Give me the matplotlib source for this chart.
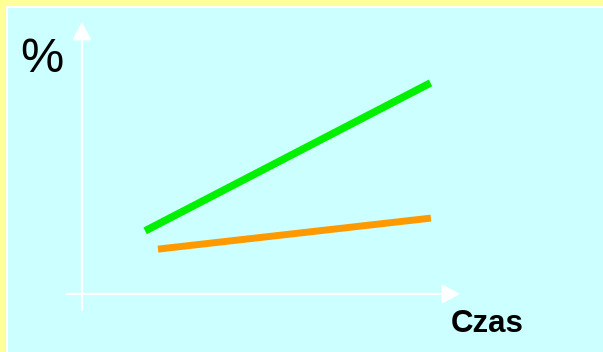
import matplotlib
matplotlib.use("Agg")
import matplotlib.pyplot as plt
from matplotlib.patches import Rectangle

# Data (arbitrary units: time 0-100, percent 0-100)
green_t = [16.7, 92.2]
green_pct = [23.2, 77.6]
orange_t = [20.1, 92.3]
orange_pct = [16.5, 27.9]
x_label = "Czas"
y_label = "%"

W, H = 603, 352
fig = plt.figure(figsize=(W / 100, H / 100), dpi=100)
fig.patch.set_facecolor("#FFFF99")

# white edge + cyan panel
fig.patches.append(Rectangle((6 / W, -0.1), 1.2, 1 - 6 / H + 0.1, transform=fig.transFigure,
                             facecolor="white", edgecolor="none", zorder=-10))
fig.patches.append(Rectangle((8 / W, -0.1), 1.2, 1 - 8 / H + 0.1, transform=fig.transFigure,
                             facecolor="#CCFFFF", edgecolor="none", zorder=-9))

ax = fig.add_axes([82 / W, (H - 294) / H, 378 / W, 272 / H])
ax.set_zorder(5)
ax.set_xlim(0, 100)
ax.set_ylim(0, 100)
ax.patch.set_alpha(0)
for s in ax.spines.values():
    s.set_visible(False)
ax.set_xticks([])
ax.set_yticks([])

arrow_style = "-|>,head_length=1.08,head_width=0.58"
ax.annotate("", xy=(0, 100), xytext=(0, -5.9), annotation_clip=False,
            arrowprops=dict(arrowstyle=arrow_style, color="white", lw=1.6,
                            shrinkA=0, shrinkB=0, mutation_scale=10))
ax.annotate("", xy=(100, 0), xytext=(-4.0, 0), annotation_clip=False,
            arrowprops=dict(arrowstyle=arrow_style, color="white", lw=1.6,
                            shrinkA=0, shrinkB=0, mutation_scale=10))

ax.plot(green_t, green_pct, color="#00F000", lw=5.4, solid_capstyle="butt", clip_on=False)
ax.plot(orange_t, orange_pct, color="#FF9900", lw=5.0, solid_capstyle="butt", clip_on=False)

fig.text(42 / W, 1 - 59 / H, y_label, fontsize=35, family="Liberation Sans",
         ha="center", va="center", zorder=6)
fig.text(487 / W, 1 - 324 / H, x_label, fontsize=22.5, family="Liberation Sans",
         fontweight="bold", ha="center", va="center", zorder=6)

fig.savefig("out.png", dpi=100, facecolor=fig.get_facecolor())
